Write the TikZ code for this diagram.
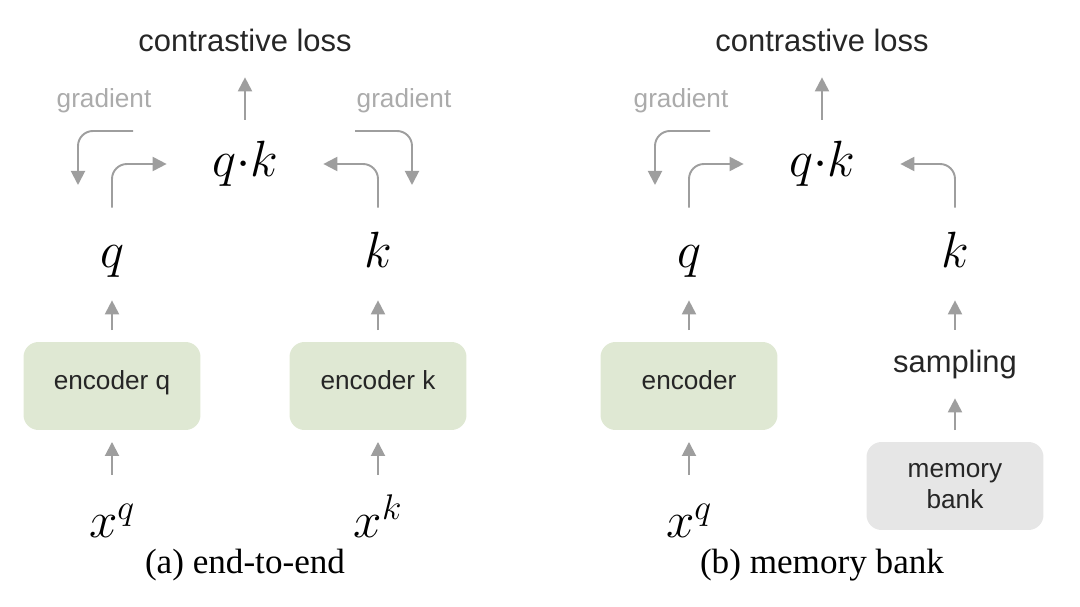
\RequirePackage{fix-cm}
\documentclass[tikz,border=0pt]{standalone}
\usepackage{fontspec}
\setsansfont{Liberation Sans}
\newfontfamily\capfont{Liberation Serif}
\usepackage{tikz}
\usetikzlibrary{arrows.meta, calc, positioning}
\definecolor{encGreen}{HTML}{DFE8D3}
\definecolor{bankGray}{HTML}{E6E6E6}
\definecolor{lineGray}{HTML}{9E9E9E}
\definecolor{gradGray}{HTML}{ABABAB}
\newcommand{\tipArrow}{{Triangle[length=2.8mm, width=2.8mm]}}

\begin{document}
\begin{tikzpicture}[x=0.02cm, y=-0.02cm, font=\sffamily,
	arr/.style={draw=lineGray, line width=1.1pt, -\tipArrow},
	bent/.style={arr, rounded corners=0.3cm},
	roundbox/.style={rounded corners=0.3cm, minimum width=3.54cm, minimum height=1.76cm, outer sep=0.24cm, text=black!85, font=\sffamily\fontsize{14.9}{17.6}\selectfont},
	encbox/.style={roundbox, fill=encGreen, text height=1.6ex, text depth=0.6ex},
	bankbox/.style={roundbox, fill=bankGray, align=center},
	vecLbl/.style={inner sep=0, anchor=base, font=\fontsize{29}{34}\selectfont},
	keyLbl/.style={vecLbl, text height=1.2cm, text depth=0.64cm},
	prodLbl/.style={vecLbl, text height=1.14cm, text depth=0.62cm, minimum width=3.12cm},
	inLbl/.style={vecLbl, text height=1.26cm, text depth=0cm},
	lossLbl/.style={inner sep=0, anchor=base, text depth=0.5cm, text=black!85, font=\sffamily\fontsize{17.6}{21}\selectfont},
	gradLbl/.style={inner sep=0, anchor=base, text=gradGray, font=\sffamily\fontsize{14.9}{17.6}\selectfont},
	capLbl/.style={inner sep=0, anchor=base, font=\capfont\fontsize{20}{24}\selectfont}
]
	\useasboundingbox (0,0) rectangle (1080,607);

	% (a) end-to-end
	\node[lossLbl] (loss1) at (245,52) {contrastive loss};
	\node[prodLbl] (qk1) at (245,177) {$q{\cdot}k$};
	\node[gradLbl] (gradq1) at (104,108) {gradient};
	\node[gradLbl] (gradk1) at (404,108) {gradient};
	\node[keyLbl] (q1) at (112,268) {$q$};
	\node[keyLbl] (k1) at (378,268) {$k$};
	\node[encbox] (encq1) at (112,386) {encoder q};
	\node[encbox] (enck1) at (378,386) {encoder k};
	\node[inLbl] (xq1) at (112,538) {$x^q$};
	\node[inLbl] (xk1) at (378,538) {$x^k$};
	\node[capLbl] (capA) at (245,574) {(a) end-to-end};

	% (b) memory bank
	\node[lossLbl] (loss2) at (822,52) {contrastive loss};
	\node[prodLbl] (qk2) at (822,177) {$q{\cdot}k$};
	\node[gradLbl] (gradq2) at (681,108) {gradient};
	\node[keyLbl] (q2) at (689,268) {$q$};
	\node[keyLbl] (k2) at (955,268) {$k$};
	\node[encbox] (enc2) at (689,386) {encoder};
	\node[lossLbl, text height=0.86cm] (samp) at (955,373) {sampling};
	\node[bankbox] (bank) at (955,486) {memory\\bank};
	\node[inLbl] (xq2) at (689,538) {$x^q$};
	\node[capLbl] (capB) at (822,574) {(b) memory bank};

	\coordinate (G1) at (133,131);
	\coordinate (G2) at (78,185);
	\coordinate (G3) at (355,131);
	\coordinate (G4) at (412,185);
	\coordinate (G5) at (710,131);
	\coordinate (G6) at (655,185);

	\foreach \from/\to in {xq1/encq1, encq1/q1, xk1/enck1, enck1/k1, xq2/enc2, enc2/q2, bank/samp, samp/k2, qk1/loss1, qk2/loss2} {
		\draw[arr] (\from) -- (\to);
	}
	\foreach \from/\to in {q1/qk1, k1/qk1, q2/qk2, k2/qk2} {
		\draw[bent] (\from) |- (\to);
	}
	\foreach \from/\to in {G1/G2, G3/G4, G5/G6} {
		\draw[bent] (\from) -| (\to);
	}

\end{tikzpicture}
\end{document}
